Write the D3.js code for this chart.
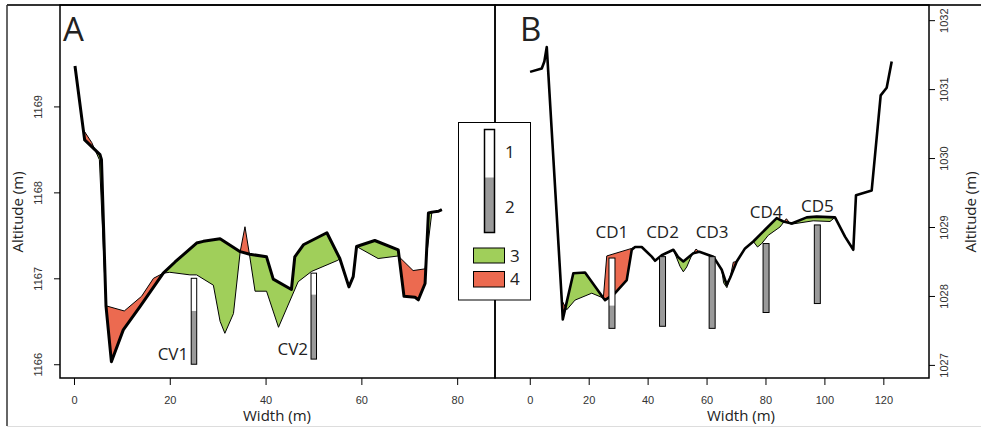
<!DOCTYPE html>
<html lang="en">
<head>
<meta charset="UTF-8">
<title>Channel cross-sections A and B</title>
<style>
  html, body { margin: 0; padding: 0; background: #fff; }
  svg { display: block; }
  .tick text { font-family: "Liberation Sans", Arial, sans-serif; font-size: 11px; fill: #333; }
  .lbl { font-family: "Open Sans", sans-serif; fill: #222; }
</style>
</head>
<body>
<svg id="chart" width="981" height="428"></svg>
<script src="https://d3js.org/d3.v7.min.js"></script>
<script>
// ---- panel A (width m, altitude m) ----
const xTicksA = [0, 20, 40, 60, 80];
const yTicksA = [1166, 1167, 1168, 1169];
// thick line: newer surface
const surfaceNewA = [
  [0.21, 1169.47], [1.94, 1168.73], [2.23, 1168.61], [5.43, 1168.44], [5.74, 1168.38],
  [6.68, 1166.68], [7.81, 1166.03], [10.29, 1166.40], [13.78, 1166.67], [18.64, 1167.06],
  [21.1, 1167.19], [25.6, 1167.41], [27.0, 1167.43], [30.5, 1167.46], [34.7, 1167.31],
  [36.7, 1167.28], [40.2, 1167.25], [41.6, 1166.99], [45.4, 1166.87], [46.1, 1167.25],
  [47.9, 1167.39], [52.8, 1167.53], [55.5, 1167.23], [57.4, 1166.90], [58.3, 1167.02],
  [59.0, 1167.37], [62.8, 1167.44], [67.7, 1167.33], [68.9, 1166.79], [71.2, 1166.78],
  [71.9, 1166.75], [73.3, 1166.94], [74.0, 1167.76], [74.7, 1167.77], [76.1, 1167.78],
  [76.8, 1167.80]
];
// thin line: older surface
const surfaceOldA = [
  [0.21, 1169.47], [1.94, 1168.73], [3.7, 1168.58], [5.3, 1168.38], [6.68, 1166.68],
  [10.5, 1166.62], [14.1, 1166.79], [16.6, 1167.00], [18.64, 1167.06], [20.0, 1167.07],
  [24.2, 1167.04], [25.6, 1167.04], [29.1, 1166.92], [30.5, 1166.50], [31.5, 1166.36],
  [33.3, 1166.59], [34.7, 1167.31], [35.7, 1167.60], [36.6, 1167.29], [37.8, 1166.85],
  [40.2, 1166.85], [42.7, 1166.43], [46.8, 1166.96], [49.6, 1167.08], [55.1, 1167.21],
  [55.5, 1167.23], [57.4, 1166.90], [58.3, 1167.02], [59.0, 1167.37], [63.5, 1167.23],
  [67.7, 1167.26], [70.8, 1167.09], [73.3, 1167.11], [74.7, 1167.76], [76.1, 1167.78],
  [76.8, 1167.80]
];
const coreNamesA = ["CV1", "CV2"];
const coreXA = [25.05, 50.06];
const coreTopA = [1167.0, 1167.06];
const coreMidA = [1166.62, 1166.81];   // white / grey boundary
const coreBottomA = [1166.0, 1166.06];

// ---- panel B ----
const xTicksB = [0, 20, 40, 60, 80, 100, 120];
const yTicksB = [1027, 1028, 1029, 1030, 1031, 1032];
const surfaceNewB = [
  [0.10, 1031.25], [4.07, 1031.30], [4.95, 1031.40], [5.77, 1031.61], [10.86, 1027.94],
  [11.20, 1027.66], [14.79, 1028.33], [18.76, 1028.34], [24.97, 1027.97], [25.55, 1027.94],
  [28.94, 1028.04], [32.91, 1028.23], [34.61, 1028.67], [35.73, 1028.71], [38.0, 1028.71],
  [41.40, 1028.57], [42.52, 1028.51], [44.79, 1028.59], [48.73, 1028.67], [50.42, 1028.56],
  [52.12, 1028.50], [55.51, 1028.62], [57.55, 1028.64], [62.30, 1028.57], [65.15, 1028.38],
  [66.85, 1028.16], [67.97, 1028.26], [70.24, 1028.50], [73.06, 1028.69], [75.87, 1028.79],
  [79.84, 1028.96], [83.81, 1029.13], [86.05, 1029.08], [88.9, 1029.05], [94.0, 1029.14],
  [97.39, 1029.15], [103.6, 1029.14], [106.99, 1028.86], [109.81, 1028.67], [110.72, 1029.46],
  [116.05, 1029.53], [119.1, 1030.91], [121.14, 1031.02], [122.84, 1031.40]
];
const surfaceOldB = [
  [5.77, 1031.61], [10.86, 1027.94], [12.56, 1027.80], [15.37, 1027.94], [21.04, 1028.04],
  [24.97, 1027.97], [26.13, 1028.58], [34.61, 1028.69], [35.73, 1028.71], [38.0, 1028.71],
  [41.40, 1028.57], [42.52, 1028.51], [44.79, 1028.59], [48.73, 1028.67], [50.99, 1028.43],
  [52.12, 1028.35], [53.27, 1028.42], [54.97, 1028.59], [55.51, 1028.62], [56.43, 1028.68],
  [57.55, 1028.64], [62.30, 1028.57], [65.15, 1028.38], [65.8, 1028.19], [66.9, 1028.12],
  [67.97, 1028.26], [69.08, 1028.49], [70.24, 1028.50], [73.06, 1028.69], [75.87, 1028.79],
  [77.3, 1028.71], [78.72, 1028.76], [80.96, 1028.88], [84.92, 1029.00], [87.1, 1029.12],
  [88.56, 1029.04], [96.2, 1029.09], [101.9, 1029.08], [103.6, 1029.14], [106.99, 1028.86],
  [109.81, 1028.67], [110.72, 1029.46]
];
const coreNamesB = ["CD1", "CD2", "CD3", "CD4", "CD5"];
const coreXB = [27.9, 45.06, 61.9, 80.2, 97.6];
const coreTopB = [1028.55, 1028.57, 1028.57, 1028.76, 1029.03];
const coreMidB = [1027.86, 1028.57, 1028.57, 1028.76, 1029.03];
const coreBottomB = [1027.53, 1027.56, 1027.53, 1027.76, 1027.89];
const labelAltB = [1028.84, 1028.84, 1028.84, 1029.13, 1029.22];

const legendLabels = ["1", "2", "3", "4"];

const GREEN = "#a0cf5a", RED = "#ec6a50", GREY = "#9a9a9a";

const svg = d3.select("#chart");
const defs = svg.append("defs");

// outer frame
svg.append("line").attr("x1", 7).attr("x2", 981).attr("y1", 5).attr("y2", 5)
  .attr("stroke", "#333").attr("stroke-width", 2);
svg.append("line").attr("x1", 7).attr("x2", 7).attr("y1", 5).attr("y2", 426)
  .attr("stroke", "#333").attr("stroke-width", 1.5);
svg.append("line").attr("x1", 7).attr("x2", 981).attr("y1", 426.5).attr("y2", 426.5)
  .attr("stroke", "#ddd").attr("stroke-width", 1);

function cores(names, xs, tops, mids, bottoms) {
  return names.map((n, i) => ({ name: n, x: xs[i], top: tops[i], mid: mids[i], bottom: bottoms[i] }));
}

function drawPanel(p) {
  const x = d3.scaleLinear().domain(p.xDomain).range(p.xRange);
  const y = d3.scaleLinear().domain(p.yDomain).range([378, 5]);
  const g = svg.append("g");
  const yBot = y.range()[0], yTop = y.range()[1];

  const areaBelow = d3.area().x(d => x(d[0])).y0(yBot).y1(d => y(d[1]));
  const areaAbove = d3.area().x(d => x(d[0])).y0(yTop).y1(d => y(d[1]));
  const line = d3.line().x(d => x(d[0])).y(d => y(d[1]));

  defs.append("clipPath").attr("id", p.id + "-aboveOld")
    .append("path").attr("d", areaAbove(p.oldSurf));
  defs.append("clipPath").attr("id", p.id + "-aboveNew")
    .append("path").attr("d", areaAbove(p.newSurf));

  // deposition (new above old) and erosion (old above new)
  g.append("path").attr("d", areaBelow(p.newSurf)).attr("fill", GREEN)
    .attr("clip-path", `url(#${p.id}-aboveOld)`);
  g.append("path").attr("d", areaBelow(p.oldSurf)).attr("fill", RED)
    .attr("clip-path", `url(#${p.id}-aboveNew)`);

  g.append("path").attr("d", line(p.oldSurf)).attr("fill", "none")
    .attr("stroke", "#000").attr("stroke-width", 1);
  g.append("path").attr("d", line(p.newSurf)).attr("fill", "none")
    .attr("stroke", "#000").attr("stroke-width", p.thick).attr("stroke-linejoin", "round");

  // cores
  const bw = p.barW;
  p.cores.forEach((c, i) => {
    const cx = x(c.x);
    g.append("rect").attr("x", cx - bw / 2).attr("y", y(c.top))
      .attr("width", bw).attr("height", y(c.mid) - y(c.top)).attr("fill", "#fff");
    g.append("rect").attr("x", cx - bw / 2).attr("y", y(c.mid))
      .attr("width", bw).attr("height", y(c.bottom) - y(c.mid)).attr("fill", GREY);
    g.append("rect").attr("x", cx - bw / 2).attr("y", y(c.top))
      .attr("width", bw).attr("height", y(c.bottom) - y(c.top))
      .attr("fill", "none").attr("stroke", "#000").attr("stroke-width", 1);
    if (p.labelBelow) {
      g.append("text").attr("class", "lbl").attr("x", cx - bw / 2 - 3).attr("y", y(c.bottom) - 4)
        .attr("text-anchor", "end").attr("font-size", 17).text(c.name);
    } else {
      g.append("text").attr("class", "lbl").attr("x", cx).attr("y", y(p.labelAlt[i]))
        .attr("text-anchor", "middle").attr("font-size", 17).text(c.name);
    }
  });

  // box
  g.append("rect").attr("x", p.xRange[0]).attr("y", 5)
    .attr("width", p.xRange[1] - p.xRange[0]).attr("height", 373)
    .attr("fill", "none").attr("stroke", "#000").attr("stroke-width", 1.5);

  // x axis
  const xa = g.append("g").attr("transform", "translate(0,378)")
    .call(d3.axisBottom(x).tickValues(p.xTicks).tickSize(7).tickFormat(d3.format("d")));
  xa.select(".domain").remove();
  xa.selectAll("line").attr("stroke", "#000");
  xa.selectAll("text").attr("y", 26).attr("dy", 0);

  // y axis
  const left = p.yAxisSide === "left";
  const ax = left ? d3.axisLeft(y) : d3.axisRight(y);
  const ya = g.append("g").attr("transform", `translate(${left ? p.xRange[0] : p.xRange[1]},0)`)
    .call(ax.tickValues(p.yTicks).tickSize(6).tickFormat(d3.format("d")));
  ya.select(".domain").remove();
  ya.selectAll("line").attr("stroke", "#000");
  ya.selectAll("text")
    .attr("x", null).attr("dy", 0).attr("text-anchor", "middle")
    .attr("transform", `translate(${left ? -18 : 19},0) rotate(-90)`);

  // titles
  g.append("text").attr("class", "lbl").attr("x", p.xLabelX).attr("y", 421)
    .attr("text-anchor", "middle").attr("font-size", 15).text("Width (m)");
  g.append("text").attr("class", "lbl")
    .attr("transform", `translate(${p.yLabelX},212) rotate(-90)`)
    .attr("text-anchor", "middle").attr("font-size", 15).text("Altitude (m)");
  g.append("text").attr("class", "lbl").attr("x", p.xRange[0] + p.letterDx).attr("y", 41)
    .attr("font-size", 33).attr("fill", "#000").text(p.letter);
}

drawPanel({
  id: "A", letter: "A", letterDx: 3,
  xDomain: [-2.92, 87.9], xRange: [60, 495], yDomain: [1165.84, 1170.18],
  newSurf: surfaceNewA, oldSurf: surfaceOldA,
  cores: cores(coreNamesA, coreXA, coreTopA, coreMidA, coreBottomA),
  labelBelow: true, barW: 5.5, thick: 3,
  xTicks: xTicksA, yTicks: yTicksA, yAxisSide: "left",
  xLabelX: 277, yLabelX: 23
});

drawPanel({
  id: "B", letter: "B", letterDx: 25,
  xDomain: [-11.8, 135.5], xRange: [495, 929], yDomain: [1026.81, 1032.22],
  newSurf: surfaceNewB, oldSurf: surfaceOldB,
  cores: cores(coreNamesB, coreXB, coreTopB, coreMidB, coreBottomB),
  labelBelow: false, labelAlt: labelAltB, barW: 6, thick: 2.6,
  xTicks: xTicksB, yTicks: yTicksB, yAxisSide: "right",
  xLabelX: 741, yLabelX: 976
});

// legend
const lg = svg.append("g");
lg.append("rect").attr("x", 458.5).attr("y", 122.5).attr("width", 72).attr("height", 177.5)
  .attr("fill", "#fff").attr("stroke", "#000").attr("stroke-width", 1);
lg.append("rect").attr("x", 484.5).attr("y", 129.5).attr("width", 10).attr("height", 48)
  .attr("fill", "#fff");
lg.append("rect").attr("x", 484.5).attr("y", 177.5).attr("width", 10).attr("height", 55)
  .attr("fill", GREY);
lg.append("rect").attr("x", 484.5).attr("y", 129.5).attr("width", 10).attr("height", 103)
  .attr("fill", "none").attr("stroke", "#000").attr("stroke-width", 1.5);
lg.append("rect").attr("x", 473.5).attr("y", 248).attr("width", 31).attr("height", 15)
  .attr("fill", GREEN).attr("stroke", "#000").attr("stroke-width", 1);
lg.append("rect").attr("x", 473.5).attr("y", 271.5).attr("width", 31).attr("height", 15.5)
  .attr("fill", RED).attr("stroke", "#000").attr("stroke-width", 1);
const legPos = [[505, 158], [505, 213], [510, 262], [510, 285]];
lg.selectAll("text.leg").data(legendLabels).enter().append("text")
  .attr("class", "lbl leg").attr("x", (d, i) => legPos[i][0]).attr("y", (d, i) => legPos[i][1])
  .attr("font-size", 17).text(d => d);
</script>
</body>
</html>
